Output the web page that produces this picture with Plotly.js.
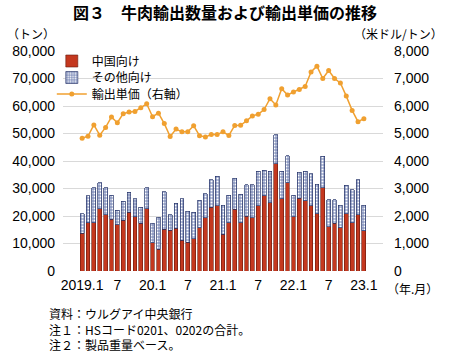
<!DOCTYPE html>
<html>
<head>
<meta charset="utf-8">
<script src="https://cdn.plot.ly/plotly-3.0.1.min.js"></script>
<style>
html,body{margin:0;padding:0;background:#fff;}
#chart{width:450px;height:354px;}
</style>
</head>
<body>
<div id="chart"></div>
<script>
// Months (年.月)
var months = [
  "2019.1","2019.2","2019.3","2019.4","2019.5","2019.6","2019.7","2019.8","2019.9","2019.10","2019.11","2019.12",
  "2020.1","2020.2","2020.3","2020.4","2020.5","2020.6","2020.7","2020.8","2020.9","2020.10","2020.11","2020.12",
  "2021.1","2021.2","2021.3","2021.4","2021.5","2021.6","2021.7","2021.8","2021.9","2021.10","2021.11","2021.12",
  "2022.1","2022.2","2022.3","2022.4","2022.5","2022.6","2022.7","2022.8","2022.9","2022.10","2022.11","2022.12",
  "2023.1"
];
// 中国向け (トン)
var china = [
  13700,17600,17600,22700,20500,18800,16900,18500,21300,19700,17300,22700,
  10300,7900,15200,14900,15500,11200,10400,11800,15800,19300,23100,23800,
  13400,17600,22400,17600,19900,19300,23700,27400,24900,39000,26300,32100,
  19700,26400,25600,23800,20900,30300,16100,17300,15800,20900,17600,20500,
  14700
];
// その他向け (トン)
var others = [
  7200,9700,12700,9400,9700,8700,5200,6900,7400,6600,5800,7600,
  7000,11600,13700,5500,9200,15000,11300,9500,9900,8800,10100,10600,
  10600,10000,11400,10300,11500,12100,12500,9200,11400,10600,10000,9900,
  7800,9600,10600,11600,10600,11400,9900,8700,8100,10300,12000,12700,
  9300
];
// 輸出単価 (米ドル/トン)
var price = [
  4830,4900,5310,4940,5220,5600,5390,5720,5780,5800,5940,6080,
  5610,5740,5360,4890,5160,5060,5060,5280,4920,4870,4960,4960,
  5060,4930,5295,5300,5460,5640,5700,5870,6265,6040,6630,6400,
  6510,6600,6710,7240,7450,7000,7290,7000,6840,6360,5840,5430,
  5540
];
var tickVals = ["2019.1","2019.7","2020.1","2020.7","2021.1","2021.7","2022.1","2022.7","2023.1"];
var tickText = ["2019.1","7","20.1","7","21.1","7","22.1","7","23.1"];
var yTicks = [0,10000,20000,30000,40000,50000,60000,70000,80000];
var y2Ticks = [0,1000,2000,3000,4000,5000,6000,7000,8000];

var JP = '"Noto Sans CJK JP", sans-serif';
var NUM = '"Liberation Sans", Arial, "Noto Sans CJK JP", sans-serif';

var traces = [
  {
    type: 'bar', name: '中国向け', x: months, y: china, legend: 'legend',
    marker: {color: '#C4381F', line: {color: '#65190D', width: 0.6}},
    hoverinfo: 'skip'
  },
  {
    type: 'bar', name: 'その他向け', x: months, y: others, legend: 'legend2',
    marker: {color: '#8A97C0', line: {color: '#27346A', width: 0.7},
             pattern: {shape: '.', fgcolor: '#FFFFFF', bgcolor: '#8A97C0', size: 3, solidity: 0.35}},
    hoverinfo: 'skip'
  },
  {
    type: 'scatter', mode: 'lines+markers', name: '輸出単価（右軸）', x: months, y: price, yaxis: 'y2',
    legend: 'legend3',
    line: {color: '#F0A030', width: 1.5},
    marker: {color: '#F0A030', size: 5},
    hoverinfo: 'skip'
  }
];

function legendAt(yv) {
  return {x: -0.035, y: yv, xanchor: 'left', yanchor: 'middle', bgcolor: 'rgba(0,0,0,0)',
          font: {family: JP, size: 12, color: '#000'}, itemwidth: 30, borderwidth: 0};
}

var layout = {
  width: 450, height: 354,
  margin: {l: 63, r: 67, t: 51, b: 83},
  paper_bgcolor: '#FFFFFF', plot_bgcolor: '#FFFFFF',
  barmode: 'stack', bargap: 0.35,
  showlegend: true,
  legend: legendAt(0.9545),
  legend2: legendAt(0.8795),
  legend3: legendAt(0.8045),
  title: {text: '<b>図３　牛肉輸出数量および輸出単価の推移</b>', x: 0.5, xanchor: 'center',
          y: 0.963, yanchor: 'middle', font: {family: JP, size: 16, color: '#000'}},
  xaxis: {type: 'category', categoryorder: 'array', categoryarray: months,
          tickmode: 'array', tickvals: tickVals, ticktext: tickText, tickangle: 0,
          showgrid: false, showline: false, zeroline: false, ticks: '',
          ticklabelstandoff: 4,
          tickfont: {family: NUM, size: 14, color: '#000'}},
  yaxis: {range: [0, 80000], tickmode: 'array', tickvals: yTicks, tickformat: ',d',
          showgrid: true, gridcolor: '#D9D9D9', gridwidth: 1, zeroline: false, showline: false,
          ticks: '', ticklabelstandoff: 7,
          tickfont: {family: NUM, size: 14, color: '#000'}},
  yaxis2: {range: [0, 8000], overlaying: 'y', side: 'right', tickmode: 'array', tickvals: y2Ticks,
           tickformat: ',d', showgrid: false, zeroline: false, showline: false, ticks: '',
           ticklabelstandoff: 10,
           tickfont: {family: NUM, size: 14, color: '#000'}},
  annotations: [
    {text: '（トン）', xref: 'paper', yref: 'paper', x: -0.181, y: 1.08, xanchor: 'left', yanchor: 'middle',
     showarrow: false, font: {family: JP, size: 12, color: '#000'}},
    {text: '（米ドル/トン）', xref: 'paper', yref: 'paper', x: 1.194, y: 1.08, xanchor: 'right', yanchor: 'middle',
     showarrow: false, font: {family: JP, size: 12, color: '#000'}},
    {text: '（年.月）', xref: 'paper', yref: 'paper', x: 1.006, y: -0.078, xanchor: 'left', yanchor: 'middle',
     showarrow: false, font: {family: JP, size: 12, color: '#000'}},
    {text: '資料：ウルグアイ中央銀行<br>注１：HSコード0201、0202の合計。<br>注２：製品重量ベース。',
     xref: 'paper', yref: 'paper', x: -0.05, y: -0.145, xanchor: 'left', yanchor: 'top', align: 'left',
     showarrow: false, font: {family: JP, size: 12, color: '#000'}}
  ]
};

Plotly.newPlot('chart', traces, layout, {staticPlot: true, displayModeBar: false});
</script>
</body>
</html>
